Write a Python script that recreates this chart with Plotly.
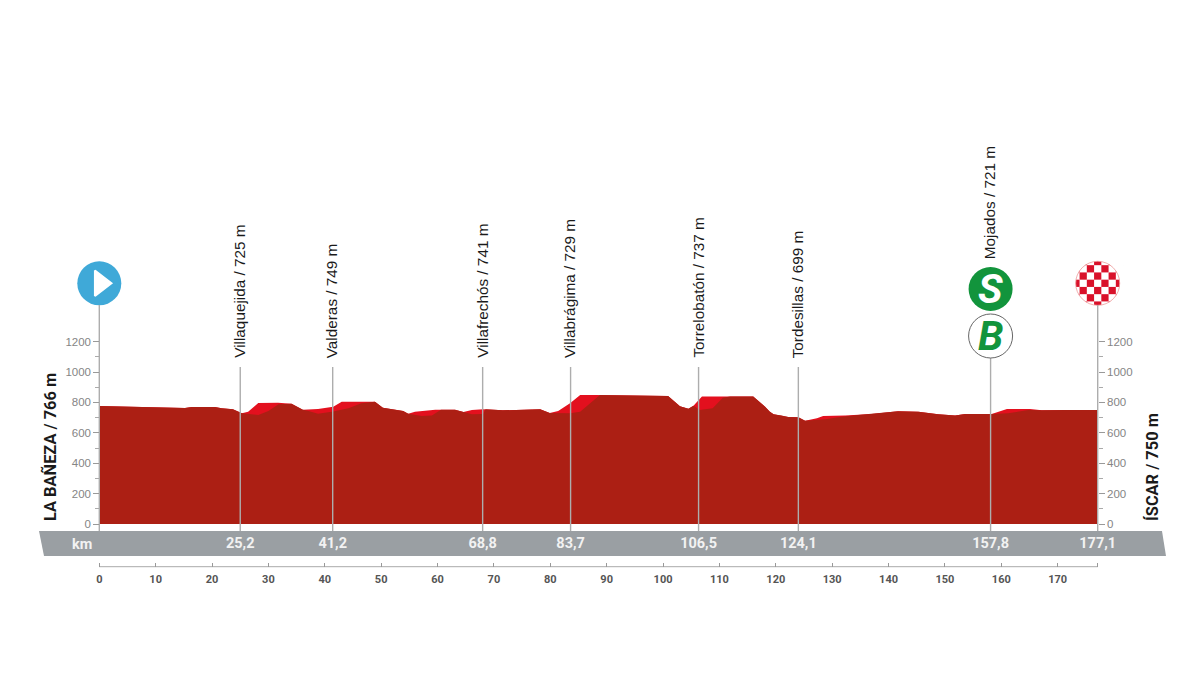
import plotly.graph_objects as go

# ---------- data ----------
profile_km = [0, 11.1, 15.2, 16.4, 20.5, 21.7, 23.7, 25.3, 26.4, 28.2, 31.7, 34.1, 36.1, 38.8, 41.5, 43.0, 48.9,
              50.3, 53.9, 54.8, 56.0, 59.6, 63.1, 64.6, 66.1, 68.1, 71.6, 78.2, 79.9, 81.4, 83.5, 85.3, 88.2,
              100.9, 103.0, 104.5, 105.4, 106.9, 116.0, 118.1, 118.9, 119.6, 121.0, 122.2, 124.0, 125.2, 127.3,
              128.4, 132.3, 137.0, 141.7, 145.3, 148.8, 151.8, 153.6, 158.3, 161.0, 165.1, 167.2, 171.3, 177.1]
profile_m = [776, 770, 763, 770, 770, 761, 755, 728, 739, 796, 798, 791, 752, 757, 772, 805, 805,
             765, 743, 726, 739, 752, 752, 737, 750, 755, 748, 755, 730, 743, 794, 849, 849,
             842, 774, 759, 778, 838, 838, 772, 740, 722, 713, 704, 702, 680, 695,
             711, 713, 724, 741, 739, 722, 713, 724, 724, 757, 757, 748, 750, 750]

base_km = [0, 11.1, 15.2, 16.4, 20.5, 21.7, 23.7, 25.3, 28.2, 30.0, 31.8, 34.1, 36.1, 37.1, 38.8, 41.5, 44.2, 46.5, 48.9,
           50.3, 53.9, 54.8, 57.2, 59.0, 60.6, 63.1, 64.6, 66.1, 68.1, 68.5, 71.6, 78.2, 79.9, 83.5, 85.3, 87.0, 88.8,
           100.9, 103.0, 104.5, 105.4, 106.5, 108.8, 110.6, 111.9, 116.0, 118.1, 118.9, 119.6, 121.0, 122.2, 124.0, 125.2,
           128.8, 131.7, 134.1, 137.0, 141.7, 145.3, 148.8, 151.8, 153.6, 158.3, 161.2, 164.8, 167.2, 171.3, 177.1]
base_m = [776, 770, 763, 770, 770, 761, 755, 728, 717, 743, 788, 791, 752, 743, 726, 740, 761, 794, 805,
          765, 743, 726, 711, 713, 752, 752, 737, 722, 724, 755, 748, 755, 730, 728, 739, 794, 849,
          842, 774, 759, 778, 750, 761, 831, 838, 838, 772, 740, 722, 713, 704, 702, 680,
          689, 706, 715, 724, 741, 739, 722, 713, 724, 724, 728, 750, 748, 750, 750]

place_names = ["Villaquejida / 725 m", "Valderas / 749 m", "Villafrechós / 741 m", "Villabrágima / 729 m",
               "Torrelobatón / 737 m", "Tordesillas / 699 m", "Mojados / 721 m"]
place_km = [25.0, 41.4, 68.0, 83.6, 106.3, 124.0, 158.1]
line_top_m = [1033, 1033, 1033, 1033, 1033, 1033, 1092]
label_base_m = [1092, 1092, 1092, 1092, 1092, 1092, 1743]

band_labels = ["25,2", "41,2", "68,8", "83,7", "106,5", "124,1", "157,8", "177,1"]
band_km = [25.0, 41.4, 68.0, 83.6, 106.3, 124.0, 158.1, 177.1]

km_ticks = [0, 10, 20, 30, 40, 50, 60, 70, 80, 90, 100, 110, 120, 130, 140, 150, 160, 170, 177.1]
km_tick_text = ["0", "10", "20", "30", "40", "50", "60", "70", "80", "90", "100", "110", "120", "130",
                "140", "150", "160", "170", ""]
alt_ticks = [0, 200, 400, 600, 800, 1000, 1200]
alt_minor = [100, 300, 500, 700, 900, 1100]
start_label = "LA BAÑEZA / 766 m"
finish_label = "ÍSCAR / 750 m"
race_km = 177.1

# ---------- styling ----------
W, H = 1200, 676
X0, X1 = 99.3, 1097.7
Y0 = 524.0
PXM = 0.152
PXK = (X1 - X0) / race_km
DARK, BRIGHT = "#AC1F14", "#E3101E"
GREY = "#9A9FA3"
LINE = "#ADADAD"
COND = "Roboto"
REG = "Liberation Sans"


def m_at(py):
    return (Y0 - py) / PXM


def km_at(px):
    return (px - X0) / PXK


fig = go.Figure()


def line(xs, ys, color, width=1.4, yaxis="y"):
    fig.add_trace(go.Scatter(x=xs, y=ys, mode="lines", yaxis=yaxis, line=dict(color=color, width=width),
                             cliponaxis=False, hoverinfo="skip", showlegend=False))


def dots(xs, ys, size, color, symbol="circle", lw=0, lc="rgba(0,0,0,0)", yaxis="y"):
    fig.add_trace(go.Scatter(x=xs, y=ys, mode="markers", yaxis=yaxis, cliponaxis=False, hoverinfo="skip",
                             showlegend=False,
                             marker=dict(size=size, color=color, symbol=symbol, line=dict(width=lw, color=lc))))


fig.add_trace(go.Scatter(x=profile_km, y=profile_m, mode="lines", fill="tozeroy", fillcolor=BRIGHT,
                         line=dict(color=BRIGHT, width=0), hoverinfo="skip", showlegend=False))
fig.add_trace(go.Scatter(x=base_km, y=base_m, mode="lines", fill="tozeroy", fillcolor=DARK,
                         line=dict(color=DARK, width=0), hoverinfo="skip", showlegend=False))

# km ruler line
line([0, race_km], [m_at(566.7), m_at(566.7)], "#AAAAAA", 1)

# start marker
ICON_M = m_at(283.3)
dots([0], [ICON_M], 44, "#3FA9D8")
dots([0.2], [ICON_M], 22, "white", "triangle-right", 2, "white")
line([0, 0], [m_at(531), m_at(305)], LINE)

# finish marker (checkerboard)
CELL = 7.25
cols = [-3, -2, -1, 0, 1, 2, 3]
rows = [-3, -2, -1, 0, 1, 2, 3]
cx, cy = [], []
for r in rows:
    for c in cols:
        if (r + c) % 2 == 1:
            cx.append(race_km + c * CELL / PXK)
            cy.append(ICON_M + r * CELL / PXM)
dots([race_km], [ICON_M], 44, "white", yaxis="y2")
dots(cx, cy, CELL, "#D9112A", "square", yaxis="y2")
dots([race_km], [ICON_M], 54, "white", "circle-open", 10, "white", yaxis="y2")
dots([race_km], [ICON_M], 44, "#EE9999", "circle-open", 0.8, "#EE9999", yaxis="y2")
line([race_km, race_km], [m_at(531), m_at(305)], LINE, yaxis="y2")

# place lines
for k, t in zip(place_km, line_top_m):
    line([k, k], [m_at(531), t], LINE)

# sprint / bonus markers
SPR = place_km[-1]
dots([SPR], [m_at(289)], 44, "#12943C")
dots([SPR], [m_at(336)], 44, "white", lw=1, lc="#666666")

# km band labels
fig.add_trace(go.Scatter(x=band_km, y=[m_at(544.5)] * len(band_km), mode="text", text=band_labels, cliponaxis=False,
                         textfont=dict(family=COND, size=14.5, color="#F2F2F2", weight="bold"),
                         hoverinfo="skip", showlegend=False))

ann = []
for name, k, b in zip(place_names, place_km, label_base_m):
    ann.append(dict(x=k, y=b, xref="x", yref="y", text=name, textangle=-90, showarrow=False, xanchor="center",
                    yanchor="bottom", xshift=-1, font=dict(family=REG, size=15.3, color="#1A1A1A"),
                    borderpad=0, borderwidth=0))
ann.append(dict(x=km_at(81.7), y=m_at(544.5), xref="x", yref="y", text="km", showarrow=False,
                font=dict(family=COND, size=14.5, color="#F2F2F2", weight="bold")))
ann.append(dict(x=50 / W, y=(H - 523) / H, xref="paper", yref="paper", text=start_label, textangle=-90, showarrow=False,
                xanchor="center", yanchor="bottom", font=dict(family=COND, size=16.4, color="#1A1A1A", weight="bold")))
ann.append(dict(x=1152 / W, y=(H - 523) / H, xref="paper", yref="paper", text=finish_label, textangle=-90,
                showarrow=False, xanchor="center", yanchor="bottom",
                font=dict(family=COND, size=16.4, color="#1A1A1A", weight="bold")))
ann.append(dict(x=SPR, y=m_at(289), xref="x", yref="y", text="S", showarrow=False,
                font=dict(family=COND, size=41, color="white", weight="bold", style="italic")))
ann.append(dict(x=SPR, y=m_at(336), xref="x", yref="y", text="B", showarrow=False,
                font=dict(family=COND, size=41, color="#12943C", weight="bold", style="italic")))


def p(px, py):
    return f"{px / W:.5f} {1 - py / H:.5f}"


band = dict(type="path", xref="paper", yref="paper", layer="below", line=dict(width=0), fillcolor=GREY,
            path=f"M {p(39, 531)} L {p(1162, 531)} L {p(1166, 556)} L {p(44, 556)} Z")

alt_axis = dict(domain=[0, 1], range=[m_at(H), m_at(0)], tickmode="array",
                tickvals=alt_ticks, ticktext=[str(v) for v in alt_ticks], ticks="outside", ticklen=6, tickwidth=1,
                tickcolor="#999999", showgrid=False, zeroline=False, showline=False,
                tickfont=dict(family=REG, size=11.5, color="#858585"),
                minor=dict(tickmode="array", tickvals=alt_minor, ticks="outside", ticklen=4, tickcolor="#AAAAAA",
                           showgrid=False))

fig.update_layout(
    width=W, height=H, autosize=False, margin=dict(l=0, r=0, t=0, b=0, autoexpand=False), paper_bgcolor="white",
    plot_bgcolor="rgba(0,0,0,0)", showlegend=False, shapes=[band], annotations=ann,
    xaxis=dict(domain=[0, 1], range=[km_at(0), km_at(W)], anchor="free", position=(H - 566.7) / H,
               tickmode="array", tickvals=km_ticks, ticktext=km_tick_text, ticks="inside", ticklen=4, tickwidth=1,
               tickcolor="#999999", showline=False, showgrid=False, zeroline=False, ticklabelstandoff=4,
               tickfont=dict(family=COND, size=11, color="#555555", weight="bold")),
    yaxis=dict(**alt_axis, side="left", anchor="free", position=X0 / W),
    yaxis2=dict(**alt_axis, side="right", anchor="free", position=X1 / W, overlaying="y"),
)

fig.write_html("out.html", post_script="document.body.style.margin='0';", config={"displayModeBar": False})
